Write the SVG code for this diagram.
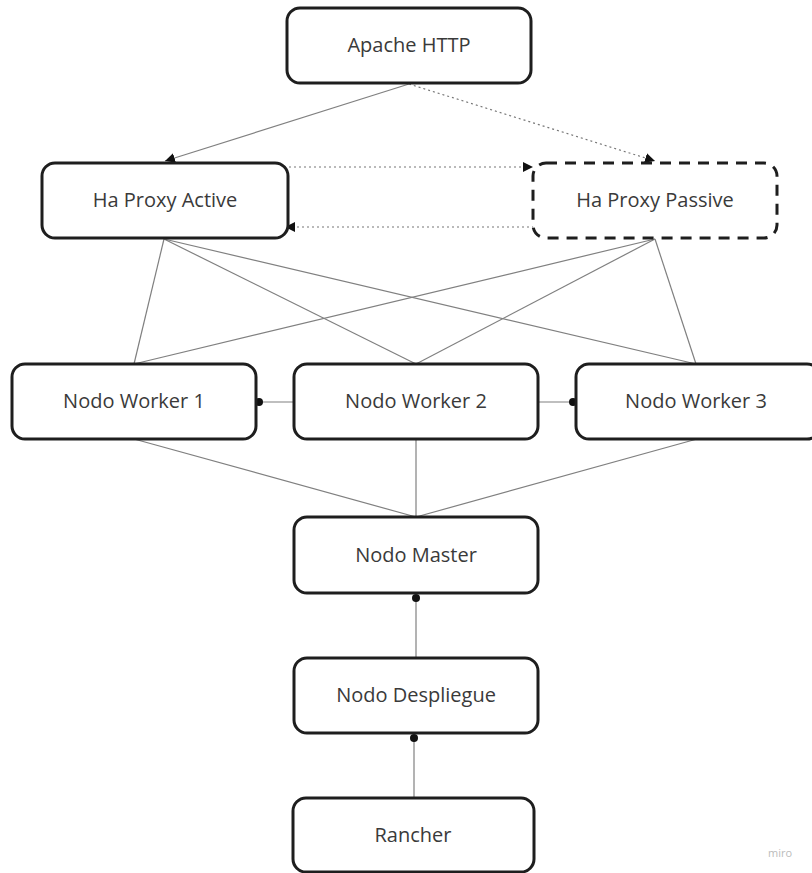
<svg xmlns="http://www.w3.org/2000/svg" width="812" height="873" viewBox="0 0 812 873">
<style>
.box{fill:#fff;stroke:#1e1e1e;stroke-width:3}
.dash{stroke-dasharray:11 8}
.lbl{font-family:"Open Sans","Liberation Sans",sans-serif;font-size:20px;fill:#3a3a3a;text-anchor:middle}
.c{fill:none;stroke:#808080;stroke-width:1.2}
.d{fill:none;stroke:#777;stroke-width:1.2;stroke-dasharray:2 3}
.wm{font-family:"Open Sans","Liberation Sans",sans-serif;font-size:11px;fill:#bbb}
</style>
<defs>
<marker id="arr" viewBox="0 0 10 10" refX="10" refY="5" markerWidth="10" markerHeight="10" markerUnits="userSpaceOnUse" orient="auto">
<path d="M0,0 L10,5 L0,10 z" fill="#111"/>
</marker>
<marker id="dot" viewBox="0 0 10 10" refX="5" refY="5" markerWidth="8" markerHeight="8" markerUnits="userSpaceOnUse" orient="auto">
<circle cx="5" cy="5" r="5" fill="#111"/>
</marker>
</defs>
<g id="connectors">
<line class="c" x1="409" y1="84" x2="165" y2="161" marker-end="url(#arr)"/>
<line class="d" x1="409" y1="84" x2="655" y2="161" marker-end="url(#arr)"/>
<line class="d" x1="284" y1="167" x2="533" y2="167" marker-end="url(#arr)"/>
<line class="d" x1="534" y1="227" x2="285" y2="227" marker-end="url(#arr)"/>
<line class="c" x1="164" y1="239" x2="134" y2="364"/>
<line class="c" x1="164" y1="239" x2="416" y2="364"/>
<line class="c" x1="164" y1="239" x2="696" y2="364"/>
<line class="c" x1="655" y1="239" x2="134" y2="364"/>
<line class="c" x1="655" y1="239" x2="416" y2="364"/>
<line class="c" x1="655" y1="239" x2="696" y2="364"/>
<line class="c" x1="294" y1="402" x2="259" y2="402" marker-end="url(#dot)"/>
<line class="c" x1="538" y1="402" x2="573" y2="402" marker-end="url(#dot)"/>
<line class="c" x1="134" y1="439" x2="416" y2="517"/>
<line class="c" x1="416" y1="439" x2="416" y2="517"/>
<line class="c" x1="697" y1="439" x2="416" y2="517"/>
<line class="c" x1="416" y1="658" x2="416" y2="598" marker-end="url(#dot)"/>
<line class="c" x1="414" y1="798" x2="414" y2="738" marker-end="url(#dot)"/>
</g>
<g id="apache"><rect class="box" x="287" y="8" width="244" height="75" rx="13"/><text class="lbl" x="409" y="52">Apache HTTP</text></g>
<g id="haproxy-active"><rect class="box" x="42" y="163" width="246" height="75" rx="13"/><text class="lbl" x="165" y="207">Ha Proxy Active</text></g>
<g id="haproxy-passive"><rect class="box dash" x="533" y="163" width="244" height="75" rx="13"/><text class="lbl" x="655" y="207">Ha Proxy Passive</text></g>
<g id="worker1"><rect class="box" x="12" y="364" width="244" height="75" rx="13"/><text class="lbl" x="134" y="408">Nodo Worker 1</text></g>
<g id="worker2"><rect class="box" x="294" y="364" width="244" height="75" rx="13"/><text class="lbl" x="416" y="408">Nodo Worker 2</text></g>
<g id="worker3"><rect class="box" x="576" y="364" width="244" height="75" rx="13"/><text class="lbl" x="696" y="408">Nodo Worker 3</text></g>
<g id="master"><rect class="box" x="294" y="517" width="244" height="76" rx="13"/><text class="lbl" x="416" y="562">Nodo Master</text></g>
<g id="despliegue"><rect class="box" x="294" y="658" width="244" height="75" rx="13"/><text class="lbl" x="416" y="702">Nodo Despliegue</text></g>
<g id="rancher"><rect class="box" x="293" y="798" width="241" height="74" rx="13"/><text class="lbl" x="413" y="842">Rancher</text></g>
<text class="wm" x="768" y="857">miro</text>
</svg>
